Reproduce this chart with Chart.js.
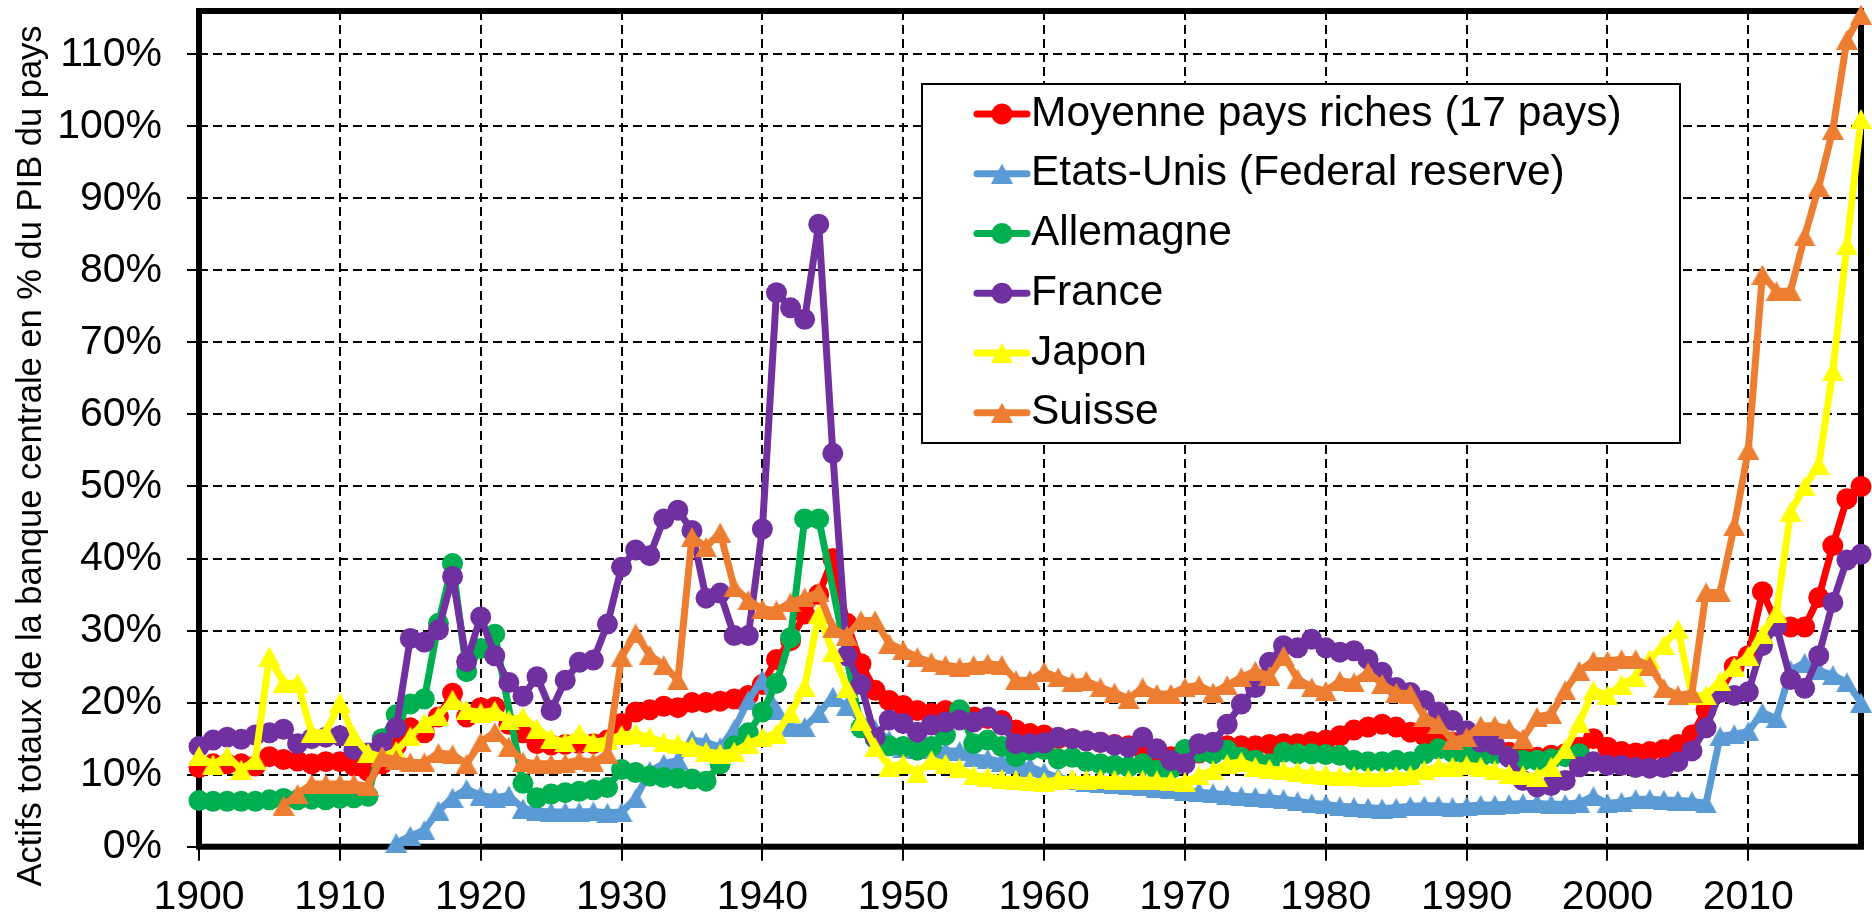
<!DOCTYPE html>
<html>
<head>
<meta charset="utf-8">
<script src="https://cdn.jsdelivr.net/npm/chart.js@4.4.1/dist/chart.umd.min.js"></script>
<style>
html,body{margin:0;padding:0;background:#fff;overflow:hidden}
canvas{display:block}
</style>
</head>
<body>
<canvas id="c" width="1872" height="917"></canvas>
<script>
// ---------------- DATA ----------------
const years = [
  1900,1901,1902,1903,1904,1905,1906,1907,1908,1909,
  1910,1911,1912,1913,1914,1915,1916,1917,1918,1919,
  1920,1921,1922,1923,1924,1925,1926,1927,1928,1929,
  1930,1931,1932,1933,1934,1935,1936,1937,1938,1939,
  1940,1941,1942,1943,1944,1945,1946,1947,1948,1949,
  1950,1951,1952,1953,1954,1955,1956,1957,1958,1959,
  1960,1961,1962,1963,1964,1965,1966,1967,1968,1969,
  1970,1971,1972,1973,1974,1975,1976,1977,1978,1979,
  1980,1981,1982,1983,1984,1985,1986,1987,1988,1989,
  1990,1991,1992,1993,1994,1995,1996,1997,1998,1999,
  2000,2001,2002,2003,2004,2005,2006,2007,2008,2009,
  2010,2011,2012,2013,2014,2015,2016,2017,2018
];

const moyennePaysRiches = [
  11.0,11.5,11.5,11.5,11.2,12.5,12.1,11.9,11.5,11.8,
  11.8,11.2,10.5,11.5,14.0,16.5,15.8,18.0,21.3,18.0,
  19.3,19.4,17.0,15.8,14.3,14.1,14.2,14.3,14.3,14.8,
  17.1,18.7,19.0,19.5,19.3,20.0,20.0,20.2,20.5,21.0,
  22.5,26.0,28.6,32.3,35.0,40.0,31.0,25.4,21.7,20.3,
  19.6,18.9,18.5,18.9,18.3,18.0,17.8,17.5,16.2,15.7,
  15.5,15.0,15.0,14.7,14.5,14.2,14.0,13.5,13.0,12.5,
  12.3,13.0,13.5,14.0,14.0,14.0,14.2,14.3,14.3,14.6,
  14.8,15.4,16.2,16.6,17.0,16.6,15.9,15.4,14.7,14.5,
  14.3,13.8,13.6,13.1,12.5,12.4,12.7,12.9,13.8,15.0,
  13.8,13.2,13.0,13.2,13.5,14.2,15.5,19.0,21.5,25.0,
  26.5,35.4,31.0,30.5,30.5,34.6,41.8,48.3,50.0
];

const etatsUnis = [
  null,null,null,null,null,null,null,null,null,null,
  null,null,null,null,0.5,1.5,2.3,5.0,6.8,8.0,
  7.1,6.8,7.1,5.3,5.0,4.8,4.8,4.8,4.9,4.7,
  4.8,6.7,10.5,11.5,12.0,14.8,14.5,13.8,16.3,20.3,
  23.2,19.0,16.6,16.6,18.5,20.8,19.5,17.5,16.3,14.8,
  13.7,13.5,13.6,13.3,13.3,12.5,12.2,11.8,11.5,11.1,
  10.3,9.6,9.2,9.0,8.8,8.7,8.5,8.4,8.2,8.0,
  7.8,7.6,7.4,7.2,7.0,6.9,6.8,6.6,6.3,6.0,
  5.9,5.6,5.5,5.4,5.3,5.4,5.6,5.7,5.7,5.5,
  5.6,5.8,5.8,5.9,6.0,6.0,5.9,5.9,6.1,7.0,
  6.0,6.2,6.6,6.6,6.5,6.4,6.3,6.0,15.3,15.6,
  16.0,18.6,17.8,24.5,25.5,24.5,23.8,22.8,20.0
];

const allemagne = [
  6.4,6.3,6.3,6.3,6.3,6.5,6.7,6.5,6.6,6.5,
  6.7,6.8,7.0,15.0,18.3,19.8,20.5,31.0,39.3,24.3,
  27.5,29.5,null,8.8,6.8,7.3,7.5,7.7,7.9,8.2,
  10.7,10.3,9.8,9.6,9.5,9.4,9.1,11.5,14.0,15.8,
  18.7,22.7,29.0,45.5,45.5,null,null,16.5,15.0,14.0,
  13.9,13.4,13.9,15.5,19.0,14.3,14.8,13.9,12.5,13.4,
  13.5,12.2,12.4,11.8,11.5,11.3,11.1,11.5,10.6,10.8,
  13.5,13.1,12.9,13.4,12.4,12.0,11.5,13.1,12.9,12.9,
  12.8,12.7,12.0,11.8,11.8,12.0,11.8,12.9,13.6,13.1,
  12.7,12.4,12.9,12.5,12.0,12.0,12.2,12.5,12.9,null,
  null,null,null,null,null,null,null,null,null,null,
  null,null,null,null,null,null,null,null,null
];

const france = [
  13.9,14.8,15.2,14.9,15.5,15.8,16.3,14.3,15.0,15.2,
  15.4,13.5,13.0,14.4,16.5,28.9,28.4,30.1,37.5,25.7,
  31.9,26.5,22.8,20.9,23.6,18.9,23.1,25.6,25.9,30.9,
  38.8,41.2,40.4,45.5,46.7,43.9,34.5,35.2,29.3,29.3,
  44.1,76.9,74.8,73.2,86.4,54.6,26.5,22.5,15.2,17.6,
  17.1,15.9,16.9,17.3,17.6,17.3,18.0,16.9,14.3,14.3,
  14.4,15.2,15.0,14.7,14.5,14.1,13.8,15.2,13.6,12.0,
  11.5,14.3,14.5,17.0,19.8,22.1,25.6,27.9,27.6,28.8,
  27.6,27.0,27.2,26.0,24.2,22.1,21.4,20.3,18.7,17.5,
  16.1,14.5,14.1,12.4,9.2,8.3,8.5,9.2,11.1,11.8,
  11.3,11.3,11.0,10.9,11.0,11.8,13.3,16.5,21.4,21.0,
  21.5,27.9,30.6,23.2,22.0,26.5,33.9,39.8,40.6
];

const japon = [
  12.6,11.4,12.6,10.7,12.1,26.4,22.7,22.7,15.8,15.8,
  20.0,15.3,13.0,12.5,13.3,15.3,17.2,18.1,20.4,19.0,
  18.6,18.9,17.6,18.0,16.4,15.0,14.5,15.7,14.5,14.8,
  15.5,15.7,15.2,14.5,14.3,13.9,13.2,12.9,13.2,14.3,
  15.2,15.7,18.5,22.2,32.3,27.0,22.0,17.5,13.8,11.1,
  11.5,10.2,12.0,11.5,10.9,9.9,9.7,9.4,9.3,9.1,
  9.0,9.3,9.4,9.3,9.4,9.3,9.2,9.3,9.2,9.1,
  9.0,9.9,10.6,11.5,11.8,11.1,10.8,10.6,10.4,10.1,
  10.0,9.8,9.8,9.7,9.7,9.8,9.9,10.6,11.1,11.1,
  11.3,11.1,10.6,10.1,9.9,9.7,11.1,13.5,17.2,21.7,
  21.0,22.5,23.5,26.0,28.0,30.2,21.0,21.0,23.0,25.0,
  26.5,29.5,32.5,46.5,50.0,53.0,66.0,83.5,101.0
];

const suisse = [
  null,null,null,null,null,null,5.7,7.3,8.7,8.7,
  8.7,8.7,8.4,12.5,12.1,11.7,11.7,13.0,12.8,11.5,
  14.5,15.9,13.9,11.8,11.5,11.5,11.6,12.0,11.7,12.9,
  26.3,29.6,26.6,25.2,23.1,43.0,41.6,43.6,36.0,34.2,
  33.0,32.8,33.9,34.6,35.3,30.3,29.3,31.4,31.4,28.2,
  27.3,26.3,25.6,25.2,24.9,25.2,25.4,25.2,23.1,23.1,
  24.3,23.5,22.8,23.0,22.1,21.4,20.5,22.1,21.2,21.2,
  22.1,22.4,21.4,22.4,23.5,24.4,23.7,26.5,23.3,22.1,
  21.6,23.0,22.8,24.2,22.6,21.4,21.2,18.0,17.0,14.8,
  15.2,16.8,16.8,16.4,15.0,18.0,18.4,21.7,24.4,25.8,
  25.8,26.0,26.0,25.1,22.0,21.0,21.3,35.3,35.3,44.5,
  55.1,79.4,77.1,77.1,84.7,91.6,99.5,112.0,115.5
];

const seriesLabels = [
  'Moyenne pays riches (17 pays)',
  'Etats-Unis (Federal reserve)',
  'Allemagne',
  'France',
  'Japon',
  'Suisse'
];
const seriesValues = [moyennePaysRiches, etatsUnis, allemagne, france, japon, suisse];
const seriesColors = ['#FF0000', '#5B9BD5', '#00B050', '#7030A0', '#FFFF00', '#ED7D31'];
const seriesMarkers = ['circle', 'triangle', 'circle', 'circle', 'triangle', 'triangle'];

const yTickValues = [0,10,20,30,40,50,60,70,80,90,100,110];
const xTickValues = [1900,1910,1920,1930,1940,1950,1960,1970,1980,1990,2000,2010];
const yAxisTitle = 'Actifs totaux de la banque centrale en % du PIB du pays';

// ---------------- STYLE ----------------
const FONT = '"Liberation Sans", Arial, Helvetica, sans-serif';
const LINE_W = 7;
const CIRCLE_R = 10.5;
const TRI_W = 22, TRI_H = 20;

function triangleMarker(color) {
  const c = document.createElement('canvas');
  c.width = TRI_W; c.height = TRI_H;
  const g = c.getContext('2d');
  g.fillStyle = color;
  g.beginPath();
  g.moveTo(TRI_W / 2, 0);
  g.lineTo(TRI_W, TRI_H);
  g.lineTo(0, TRI_H);
  g.closePath();
  g.fill();
  return c;
}
const markerImgs = seriesColors.map((c, i) => seriesMarkers[i] === 'triangle' ? triangleMarker(c) : 'circle');

const datasets = seriesValues.map((vals, i) => ({
  label: seriesLabels[i],
  data: years.map((yr, k) => ({ x: yr, y: vals[k] })),
  borderColor: seriesColors[i],
  backgroundColor: seriesColors[i],
  pointBackgroundColor: seriesColors[i],
  pointBorderColor: seriesColors[i],
  pointBorderWidth: 0,
  borderWidth: LINE_W,
  borderCapStyle: 'round',
  borderJoinStyle: 'round',
  pointStyle: markerImgs[i],
  pointRadius: seriesMarkers[i] === 'circle' ? CIRCLE_R : 11,
  pointHoverRadius: seriesMarkers[i] === 'circle' ? CIRCLE_R : 11,
  spanGaps: true,
  tension: 0,
  clip: false,
  order: seriesValues.length - 1 - i
}));

// Plot-area geometry
const AREA = { left: 199, top: 10, right: 1861.5, bottom: 846.7 };
const CANVAS_W = 1872, CANVAS_H = 917;

const bgPlugin = {
  id: 'bg',
  beforeDraw(chart) {
    const ctx = chart.ctx;
    ctx.save();
    ctx.fillStyle = '#ffffff';
    ctx.fillRect(0, 0, chart.width, chart.height);
    ctx.restore();
  }
};

const framePlugin = {
  id: 'frame',
  beforeDatasetsDraw(chart) {
    const { ctx, chartArea: a } = chart;
    ctx.save();
    ctx.strokeStyle = '#000';
    ctx.lineWidth = 6;
    ctx.lineJoin = 'miter';
    ctx.strokeRect(a.left, a.top, a.right - a.left, a.bottom - a.top);
    ctx.restore();
  }
};

const yTitlePlugin = {
  id: 'ytitle',
  afterDraw(chart) {
    const ctx = chart.ctx;
    ctx.save();
    ctx.translate(31, 456);
    ctx.rotate(-Math.PI / 2);
    ctx.font = '34.5px ' + FONT;
    ctx.fillStyle = '#000';
    ctx.textAlign = 'center';
    ctx.textBaseline = 'middle';
    ctx.fillText(yAxisTitle, 0, 0);
    ctx.restore();
  }
};

const legendPlugin = {
  id: 'boxLegend',
  afterDraw(chart) {
    const ctx = chart.ctx;
    const box = { x: 922, y: 84, w: 758, h: 359 };
    ctx.save();
    ctx.fillStyle = '#fff';
    ctx.fillRect(box.x, box.y, box.w, box.h);
    ctx.strokeStyle = '#000';
    ctx.lineWidth = 2;
    ctx.strokeRect(box.x, box.y, box.w, box.h);
    chart.data.datasets.forEach((ds, i) => {
      const cy = 114 + i * 59.75;
      ctx.strokeStyle = seriesColors[i];
      ctx.lineWidth = LINE_W;
      ctx.lineCap = 'round';
      ctx.beginPath();
      ctx.moveTo(977, cy);
      ctx.lineTo(1027, cy);
      ctx.stroke();
      if (seriesMarkers[i] === 'circle') {
        ctx.fillStyle = seriesColors[i];
        ctx.beginPath();
        ctx.arc(1002, cy, CIRCLE_R, 0, Math.PI * 2);
        ctx.fill();
      } else {
        ctx.drawImage(markerImgs[i], 1002 - TRI_W / 2, cy - TRI_H / 2);
      }
      ctx.fillStyle = '#000';
      ctx.font = '42.5px ' + FONT;
      ctx.textAlign = 'left';
      ctx.textBaseline = 'middle';
      ctx.fillText(ds.label, 1031, cy);
    });
    ctx.restore();
  }
};

const chart = new Chart(document.getElementById('c'), {
  type: 'line',
  data: { datasets },
  options: {
    responsive: false,
    animation: false,
    devicePixelRatio: 1,
    layout: { padding: { left: 0, top: AREA.top, right: CANVAS_W - AREA.right, bottom: 0 } },
    plugins: { legend: { display: false }, tooltip: { enabled: false }, title: { display: false } },
    events: [],
    scales: {
      x: {
        type: 'linear',
        min: 1900,
        max: 2018,
        afterBuildTicks(scale) { scale.ticks = xTickValues.map(v => ({ value: v })); },
        afterFit(scale) { scale.height = CANVAS_H - AREA.bottom; scale.paddingLeft = 0; scale.paddingRight = 0; },
        ticks: {
          autoSkip: false,
          maxRotation: 0,
          minRotation: 0,
          padding: 12.5,
          color: '#000',
          font: { family: FONT, size: 41, lineHeight: 1.2 },
          callback: v => String(v)
        },
        grid: {
          color: '#000',
          lineWidth: 2,
          drawTicks: true,
          tickLength: 14,
          tickColor: '#000',
          tickWidth: 2
        },
        border: { display: false, dash: [9, 5] }
      },
      y: {
        type: 'linear',
        min: 0,
        max: 116,
        afterBuildTicks(scale) { scale.ticks = yTickValues.map(v => ({ value: v })); },
        afterFit(scale) { scale.width = AREA.left; scale.paddingTop = 0; scale.paddingBottom = 0; },
        ticks: {
          padding: 25,
          color: '#000',
          font: { family: FONT, size: 41, lineHeight: 1.2 },
          callback: v => v + '%'
        },
        grid: {
          color: '#000',
          lineWidth: 2,
          drawTicks: true,
          tickLength: 12,
          tickColor: '#000',
          tickWidth: 2
        },
        border: { display: false, dash: [9, 5] }
      }
    }
  },
  plugins: [bgPlugin, framePlugin, yTitlePlugin, legendPlugin]
});
</script>
</body>
</html>
